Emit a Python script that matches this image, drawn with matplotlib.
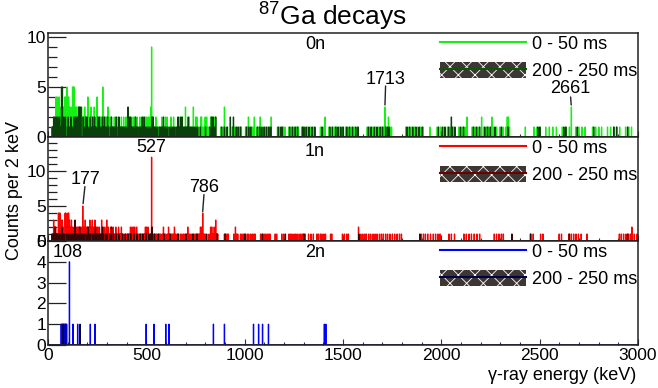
import numpy as np
import matplotlib
matplotlib.use("Agg")
import matplotlib.pyplot as plt
from matplotlib.lines import Line2D
from matplotlib.patches import Patch
from matplotlib.legend_handler import HandlerTuple
from matplotlib.ticker import MultipleLocator, NullLocator

plt.rcParams['font.family'] = ['Liberation Sans', 'DejaVu Sans']
plt.rcParams['mathtext.fontset'] = 'custom'
plt.rcParams['mathtext.rm'] = 'Liberation Sans'
plt.rcParams['hatch.color'] = 'white'
plt.rcParams['hatch.linewidth'] = 0.6

# ---------------------------------------------------------------- data
BIN_KEV = 2.0
E_MAX = 3000.0
TIME_GATES = ['0 - 50 ms', '200 - 250 ms']

# 0n : bins with >1 count as (energy keV, counts); single-count bins as energies
n0_early_peaks = [(40, 4), (44, 3), (48, 4), (52, 2), (56, 4), (60, 3), (64, 2), (72, 2), (78, 3),
                  (84, 4), (88, 4), (92, 2), (96, 5), (100, 4), (104, 4), (108, 3), (112, 2),
                  (116, 3), (120, 2), (124, 5), (128, 5), (132, 5), (136, 3), (140, 3), (144, 3),
                  (148, 2), (152, 2), (158, 3), (164, 2), (170, 3), (176, 2), (180, 2), (186, 3),
                  (192, 2), (196, 2), (202, 4), (206, 2), (212, 2), (218, 3), (222, 2), (228, 2),
                  (234, 3), (240, 2), (248, 4), (252, 2), (258, 2), (264, 2), (270, 2), (278, 5),
                  (284, 2), (290, 2), (296, 2), (304, 3), (310, 2), (318, 2), (336, 2), (344, 2),
                  (356, 2), (372, 2), (384, 2), (396, 2), (410, 2), (418, 2), (432, 2), (440, 2),
                  (452, 2), (466, 2), (478, 2), (486, 2), (494, 2), (502, 2), (510, 2), (518, 2),
                  (522, 3), (527, 9), (532, 2), (548, 2), (578, 2), (596, 2), (604, 2), (624, 2),
                  (638, 2), (662, 2), (682, 2), (698, 3), (716, 2), (738, 3), (750, 2), (756, 2),
                  (776, 2), (780, 2), (798, 2), (806, 2), (826, 2), (834, 2), (842, 2), (850, 2),
                  (896, 3), (1018, 2), (1048, 2), (1078, 2), (1134, 2), (1408, 2), (1713, 3),
                  (1730, 2), (2130, 2), (2204, 2), (2256, 2), (2334, 2), (2340, 2), (2661, 3)]
n0_early_singles = [20, 24, 32, 36, 66, 70, 74, 82, 106, 118, 134, 150, 162, 168, 174, 184, 190,
                    198, 210, 216, 226, 232, 238, 244, 256, 262, 268, 274, 282, 288, 294, 300, 308,
                    314, 322, 326, 332, 340, 348, 352, 360, 366, 376, 380, 390, 402, 406, 414, 424,
                    428, 436, 446, 458, 462, 470, 474, 482, 490, 498, 506, 514, 536, 540, 544, 552,
                    558, 564, 570, 584, 590, 610, 616, 630, 646, 652, 668, 676, 690, 704, 710, 722,
                    728, 744, 762, 768, 786, 792, 812, 818, 846, 878, 890, 904, 912, 936, 948, 960,
                    972, 982, 1004, 1012, 1026, 1034, 1040, 1062, 1070, 1090, 1104, 1118, 1126,
                    1166, 1178, 1196, 1204, 1224, 1236, 1250, 1262, 1272, 1294, 1306, 1318, 1334,
                    1350, 1384, 1398, 1428, 1440, 1456, 1466, 1480, 1496, 1512, 1524, 1540, 1556,
                    1572, 1622, 1636, 1650, 1664, 1680, 1694, 1706, 1720, 1738, 1746, 1818, 1830,
                    1846, 1862, 1878, 1894, 1906, 1942, 1978, 1994, 2012, 2030, 2044, 2062, 2088,
                    2104, 2120, 2156, 2170, 2186, 2214, 2228, 2240, 2266, 2280, 2296, 2312, 2326,
                    2346, 2426, 2470, 2486, 2502, 2530, 2548, 2566, 2584, 2614, 2632, 2650, 2682,
                    2698, 2714, 2730, 2768, 2784, 2800, 2814, 2844, 2860, 2876, 2892, 2906, 2936,
                    2952, 2966]
n0_late_peaks = [(28, 2), (34, 2), (42, 2), (50, 2), (58, 2), (68, 5), (72, 5), (80, 2), (88, 2),
                 (102, 2), (116, 2), (130, 2), (138, 2), (146, 2),
                 (154, 3), (160, 3), (166, 3), (178, 2), (190, 2), (198, 2),
                 (214, 2), (226, 2), (236, 2), (252, 2), (260, 2),
                 (276, 2), (286, 2), (302, 2), (322, 2), (346, 2),
                 (360, 2), (406, 3), (412, 2), (420, 2), (444, 2), (478, 2), (488, 2),
                 (528, 2), (534, 2), (586, 2), (660, 2), (672, 2), (680, 2), (712, 2), (830, 2),
                 (838, 2), (852, 2), (926, 2), (942, 2), (2050, 2)]
n0_late_singles = [20, 22, 26, 30, 38, 46, 54, 62, 64, 76, 84, 98, 106, 112, 120, 126, 134, 142,
                   150, 182, 194, 202, 210, 218, 230, 240, 248, 256, 264, 272, 280, 290, 298, 306,
                   316, 326, 334, 340, 356, 366, 372, 378, 386, 394, 400, 416, 426, 432, 438, 450,
                   456, 466, 472, 484, 494, 502, 510, 518, 540, 548, 556, 566, 574, 580, 594, 600,
                   608, 620, 628, 636, 644, 654, 666, 686, 694, 700, 706, 720, 726, 734, 742, 752,
                   760, 774, 800, 822, 844, 882, 896, 910, 940, 956, 966, 978, 1008, 1020, 1030,
                   1064, 1076, 1086, 1098, 1110, 1122, 1132, 1170, 1184, 1190, 1228, 1242, 1256,
                   1268, 1292, 1300, 1312, 1326, 1342, 1356, 1392, 1432, 1446, 1462, 1474, 1488,
                   1500, 1518, 1532, 1548, 1564, 1576, 1628, 1642, 1658, 1672, 1688, 1700, 1716,
                   1726, 1734, 1824, 1838, 1854, 1870, 1886, 1902, 1984, 2004, 2018, 2036, 2054,
                   2068, 2096, 2112, 2162, 2178, 2194, 2220, 2234, 2248, 2272, 2304, 2338, 2490,
                   2500, 2622, 2632, 2690, 2774, 2876, 2890, 2946]

# 1n
n1_early_peaks = [(28, 3), (32, 2), (38, 2), (52, 4), (56, 4), (60, 4), (68, 3), (72, 3), (76, 2),
                  (86, 4), (90, 4), (94, 2), (100, 4), (104, 4), (108, 3), (112, 2), (118, 3),
                  (124, 2), (132, 2), (138, 2), (144, 2), (150, 2), (156, 2), (162, 2), (168, 2),
                  (177, 5), (180, 2), (188, 3), (194, 2), (200, 2), (206, 2), (212, 3), (218, 2),
                  (224, 3), (230, 2), (238, 3), (246, 2), (252, 2), (260, 2), (272, 3), (280, 2),
                  (288, 2), (298, 3), (306, 2), (318, 2), (330, 2), (344, 2), (358, 2), (372, 2),
                  (418, 2), (426, 2), (434, 2), (440, 2), (450, 2), (494, 2), (500, 2), (508, 2),
                  (527, 12), (586, 2), (612, 2), (642, 2), (710, 2), (774, 2), (780, 2), (786, 4),
                  (826, 2), (832, 2), (844, 2), (852, 3), (952, 2), (1578, 2), (2968, 2)]
n1_early_singles = [20, 22, 24, 36, 42, 44, 48, 64, 70, 74, 80, 84, 96, 102, 114, 120, 126, 130,
                    136, 142, 148, 154, 160, 166, 172, 184, 192, 198, 204, 210, 216, 222, 228, 234,
                    242, 248, 256, 264, 268, 276, 284, 292, 302, 310, 314, 322, 326, 336, 340, 350,
                    354, 364, 368, 378, 384, 392, 398, 404, 410, 414, 422, 430, 446, 456, 462, 468,
                    474, 480, 486, 490, 504, 514, 520, 532, 538, 546, 552, 560, 566, 572, 580, 592,
                    598, 606, 618, 624, 630, 636, 648, 656, 662, 672, 680, 688, 696, 704, 716, 722,
                    730, 738, 746, 752, 758, 764, 768, 792, 798, 818, 838, 848, 858, 862, 896, 902,
                    910, 916, 944, 958, 964, 978, 986, 994, 1002, 1012, 1020, 1030, 1038, 1046,
                    1052, 1080, 1088, 1098, 1106, 1114, 1122, 1128, 1154, 1162, 1188, 1198, 1224,
                    1232, 1240, 1250, 1258, 1266, 1276, 1284, 1292, 1300, 1306, 1324, 1336, 1348,
                    1366, 1374, 1384, 1392, 1402, 1410, 1436, 1442, 1496, 1506, 1518, 1526, 1590,
                    1600, 1610, 1618, 1630, 1640, 1652, 1662, 1672, 1684, 1694, 1704, 1716, 1726,
                    1738, 1750, 1762, 1774, 1786, 1796, 1896, 1908, 1918, 1930, 1944, 1958, 1970,
                    1982, 1992, 2038, 2050, 2066, 2114, 2126, 2140, 2152, 2166, 2180, 2194, 2268,
                    2280, 2292, 2304, 2314, 2454, 2466, 2504, 2516, 2598, 2610, 2648, 2660, 2672,
                    2684, 2696, 2710, 2740, 2904, 2914, 2926, 2938, 2950, 2960, 2980, 2994]
n1_late_peaks = [(36, 2), (70, 2), (136, 3), (160, 2), (202, 2), (240, 2), (276, 2), (322, 2),
                 (528, 2)]
n1_late_singles = [20, 26, 30, 40, 44, 50, 58, 62, 66, 74, 80, 92, 98, 104, 110, 118, 124, 130,
                   144, 150, 154, 166, 172, 180, 186, 196, 210, 216, 226, 234, 246, 254, 262, 270,
                   282, 294, 300, 312, 318, 332, 346, 360, 378, 392, 406, 420, 436, 452, 468, 482,
                   498, 512, 520, 540, 560, 588, 620, 660, 700, 736, 756, 806, 860, 900, 1000,
                   1090, 1206, 1300, 1580, 1890, 2358, 2452, 2650, 2946]

# 2n
n2_early_peaks = [(108, 4)]
n2_early_singles = [66, 70, 74, 78, 82, 86, 90, 94, 126, 151, 214, 239, 498, 539, 598, 615, 841,
                    897, 1044, 1071, 1090, 1120, 1405, 1412]
n2_late_peaks = []
n2_late_singles = [76, 88, 163]

# labelled gamma lines per panel: (energy keV, counts in the peak bin)
n0_labels = [(1713, 3), (2661, 3)]
n1_labels = [(177, 5), (527, 12), (786, 4)]
n2_labels = [(108, 4)]


# ---------------------------------------------------------------- helpers
edges = np.arange(0.0, E_MAX + BIN_KEV, BIN_KEV)


def spectrum(singles, peaks):
    counts = np.zeros(len(edges) - 1)
    for e in singles:
        counts[int(e // BIN_KEV)] = 1
    for e, c in peaks:
        counts[int(e // BIN_KEV)] = c
    return counts


W, H = 658, 388
fig = plt.figure(figsize=(W / 100, H / 100), dpi=100)


def px_axes(x0, y0, x1, y1):
    return fig.add_axes([x0 / W, 1 - y1 / H, (x1 - x0) / W, (y1 - y0) / H])


PT = 0.72  # points per pixel at 100 dpi

panels = [
    dict(tag='0n', rows=(33, 137), ylim=10.4, major=5, minor=1,
         early=spectrum(n0_early_singles, n0_early_peaks),
         late=spectrum(n0_late_singles, n0_late_peaks),
         c_early='#14f014', c_late='#0a400a', c_leg='#0a550a', tag_y=0.885,
         labels=n0_labels),
    dict(tag='1n', rows=(137, 241), ylim=14.9, major=5, minor=1,
         early=spectrum(n1_early_singles, n1_early_peaks),
         late=spectrum(n1_late_singles, n1_late_peaks),
         c_early='#ff0000', c_late='#3a0505', c_leg='#6a0000', tag_y=0.865,
         labels=n1_labels),
    dict(tag='2n', rows=(241, 345), ylim=5.0, major=1, minor=None,
         early=spectrum(n2_early_singles, n2_early_peaks),
         late=spectrum(n2_late_singles, n2_late_peaks),
         c_early='#0000ff', c_late='#06063a', c_leg='#00004a', tag_y=0.885,
         labels=n2_labels),
]

# label placement in pixels: (dx, dy of text centre, leader line start, leader line end)
label_style = {
    1713: (1, 28, 2, 21),
    2661: (-1, 18.6, 2, 10),
    177: (3, 27, 2.5, 19.5),
    527: (-0.5, 10, None, None),
    786: (2, 26, 1.5, 18.5),
    108: (-1.5, 9, None, None),
}

axes = []
for i, p in enumerate(panels):
    ax = px_axes(48, p['rows'][0], 638, p['rows'][1])
    axes.append(ax)
    ax.stairs(p['early'], edges, color=p['c_early'], lw=0.85, baseline=0, zorder=2)
    ax.stairs(p['late'], edges, color=p['c_late'], lw=0.85, baseline=0, zorder=3)
    ax.set_xlim(0, E_MAX)
    ax.set_ylim(0, p['ylim'])

    ax.xaxis.set_major_locator(MultipleLocator(500))
    ax.xaxis.set_minor_locator(MultipleLocator(100))
    ax.yaxis.set_major_locator(MultipleLocator(p['major']))
    if p['minor']:
        ax.yaxis.set_minor_locator(MultipleLocator(p['minor']))
    else:
        ax.yaxis.set_minor_locator(NullLocator())
    ax.tick_params(axis='y', which='major', direction='in', length=13, width=0.9,
                   labelsize=12.5, pad=1.5, colors='#222222', labelcolor='black')
    ax.tick_params(axis='y', which='minor', direction='in', length=6.5, width=0.9,
                   colors='#222222')
    ax.tick_params(axis='x', which='major', direction='in', length=4, width=0.8,
                   labelsize=12.5, pad=2.5, colors='#333333', labelcolor='black')
    ax.tick_params(axis='x', which='minor', direction='in', length=2, width=0.8,
                   colors='#333333')
    ax.tick_params(top=False, right=False)
    if i < 2:
        ax.tick_params(axis='x', labelbottom=False)
    for s in ax.spines.values():
        s.set_linewidth(1.1)
        s.set_color('#222222')
        s.set_zorder(5)

    ax.text(0.4525, p['tag_y'], p['tag'], transform=ax.transAxes, ha='center', va='center',
            fontsize=13)

    hatch_box = Patch(facecolor='#3d3633', edgecolor='white', hatch='xx', lw=0)
    handles = [Line2D([], [], color=p['c_early'], lw=1.5),
               (hatch_box, Line2D([], [], color=p['c_leg'], lw=1.5))]
    ax.legend(handles, TIME_GATES, handler_map={tuple: HandlerTuple(ndivide=1)},
              loc='upper right', bbox_to_anchor=(0.999, 0.98), frameon=False, fontsize=13,
              handlelength=4.76, handleheight=0.94, handletextpad=0.33, labelspacing=0.5,
              borderpad=0.0, borderaxespad=0.0)

    for e, c in p['labels']:
        dx, dy, l0, l1 = label_style[e]
        if l0 is not None:
            ax.annotate('', xy=(e, c), xytext=(dx * 0.7 * PT, l1 * PT),
                        textcoords='offset points',
                        arrowprops=dict(arrowstyle='-', color='#222222', lw=1.0,
                                        shrinkA=0, shrinkB=l0 * PT))
        ax.annotate(f'{e}', xy=(e, c), xytext=(dx * PT, dy * PT), textcoords='offset points',
                    ha='center', va='center', fontsize=13)

axes[2].set_xticks(np.arange(0, 3001, 500))

fig.text(332 / W, 1 - 16 / H, r'$^{87}$Ga decays', ha='center', va='center', fontsize=19)
fig.text(15 / W, 1 - 190 / H, 'Counts per 2 keV', rotation=90, ha='center', va='center',
         fontsize=13)
fig.text(636 / W, 1 - 375 / H, 'γ-ray energy (keV)', ha='right', va='center', fontsize=13)

fig.savefig('out.png', dpi=100)
